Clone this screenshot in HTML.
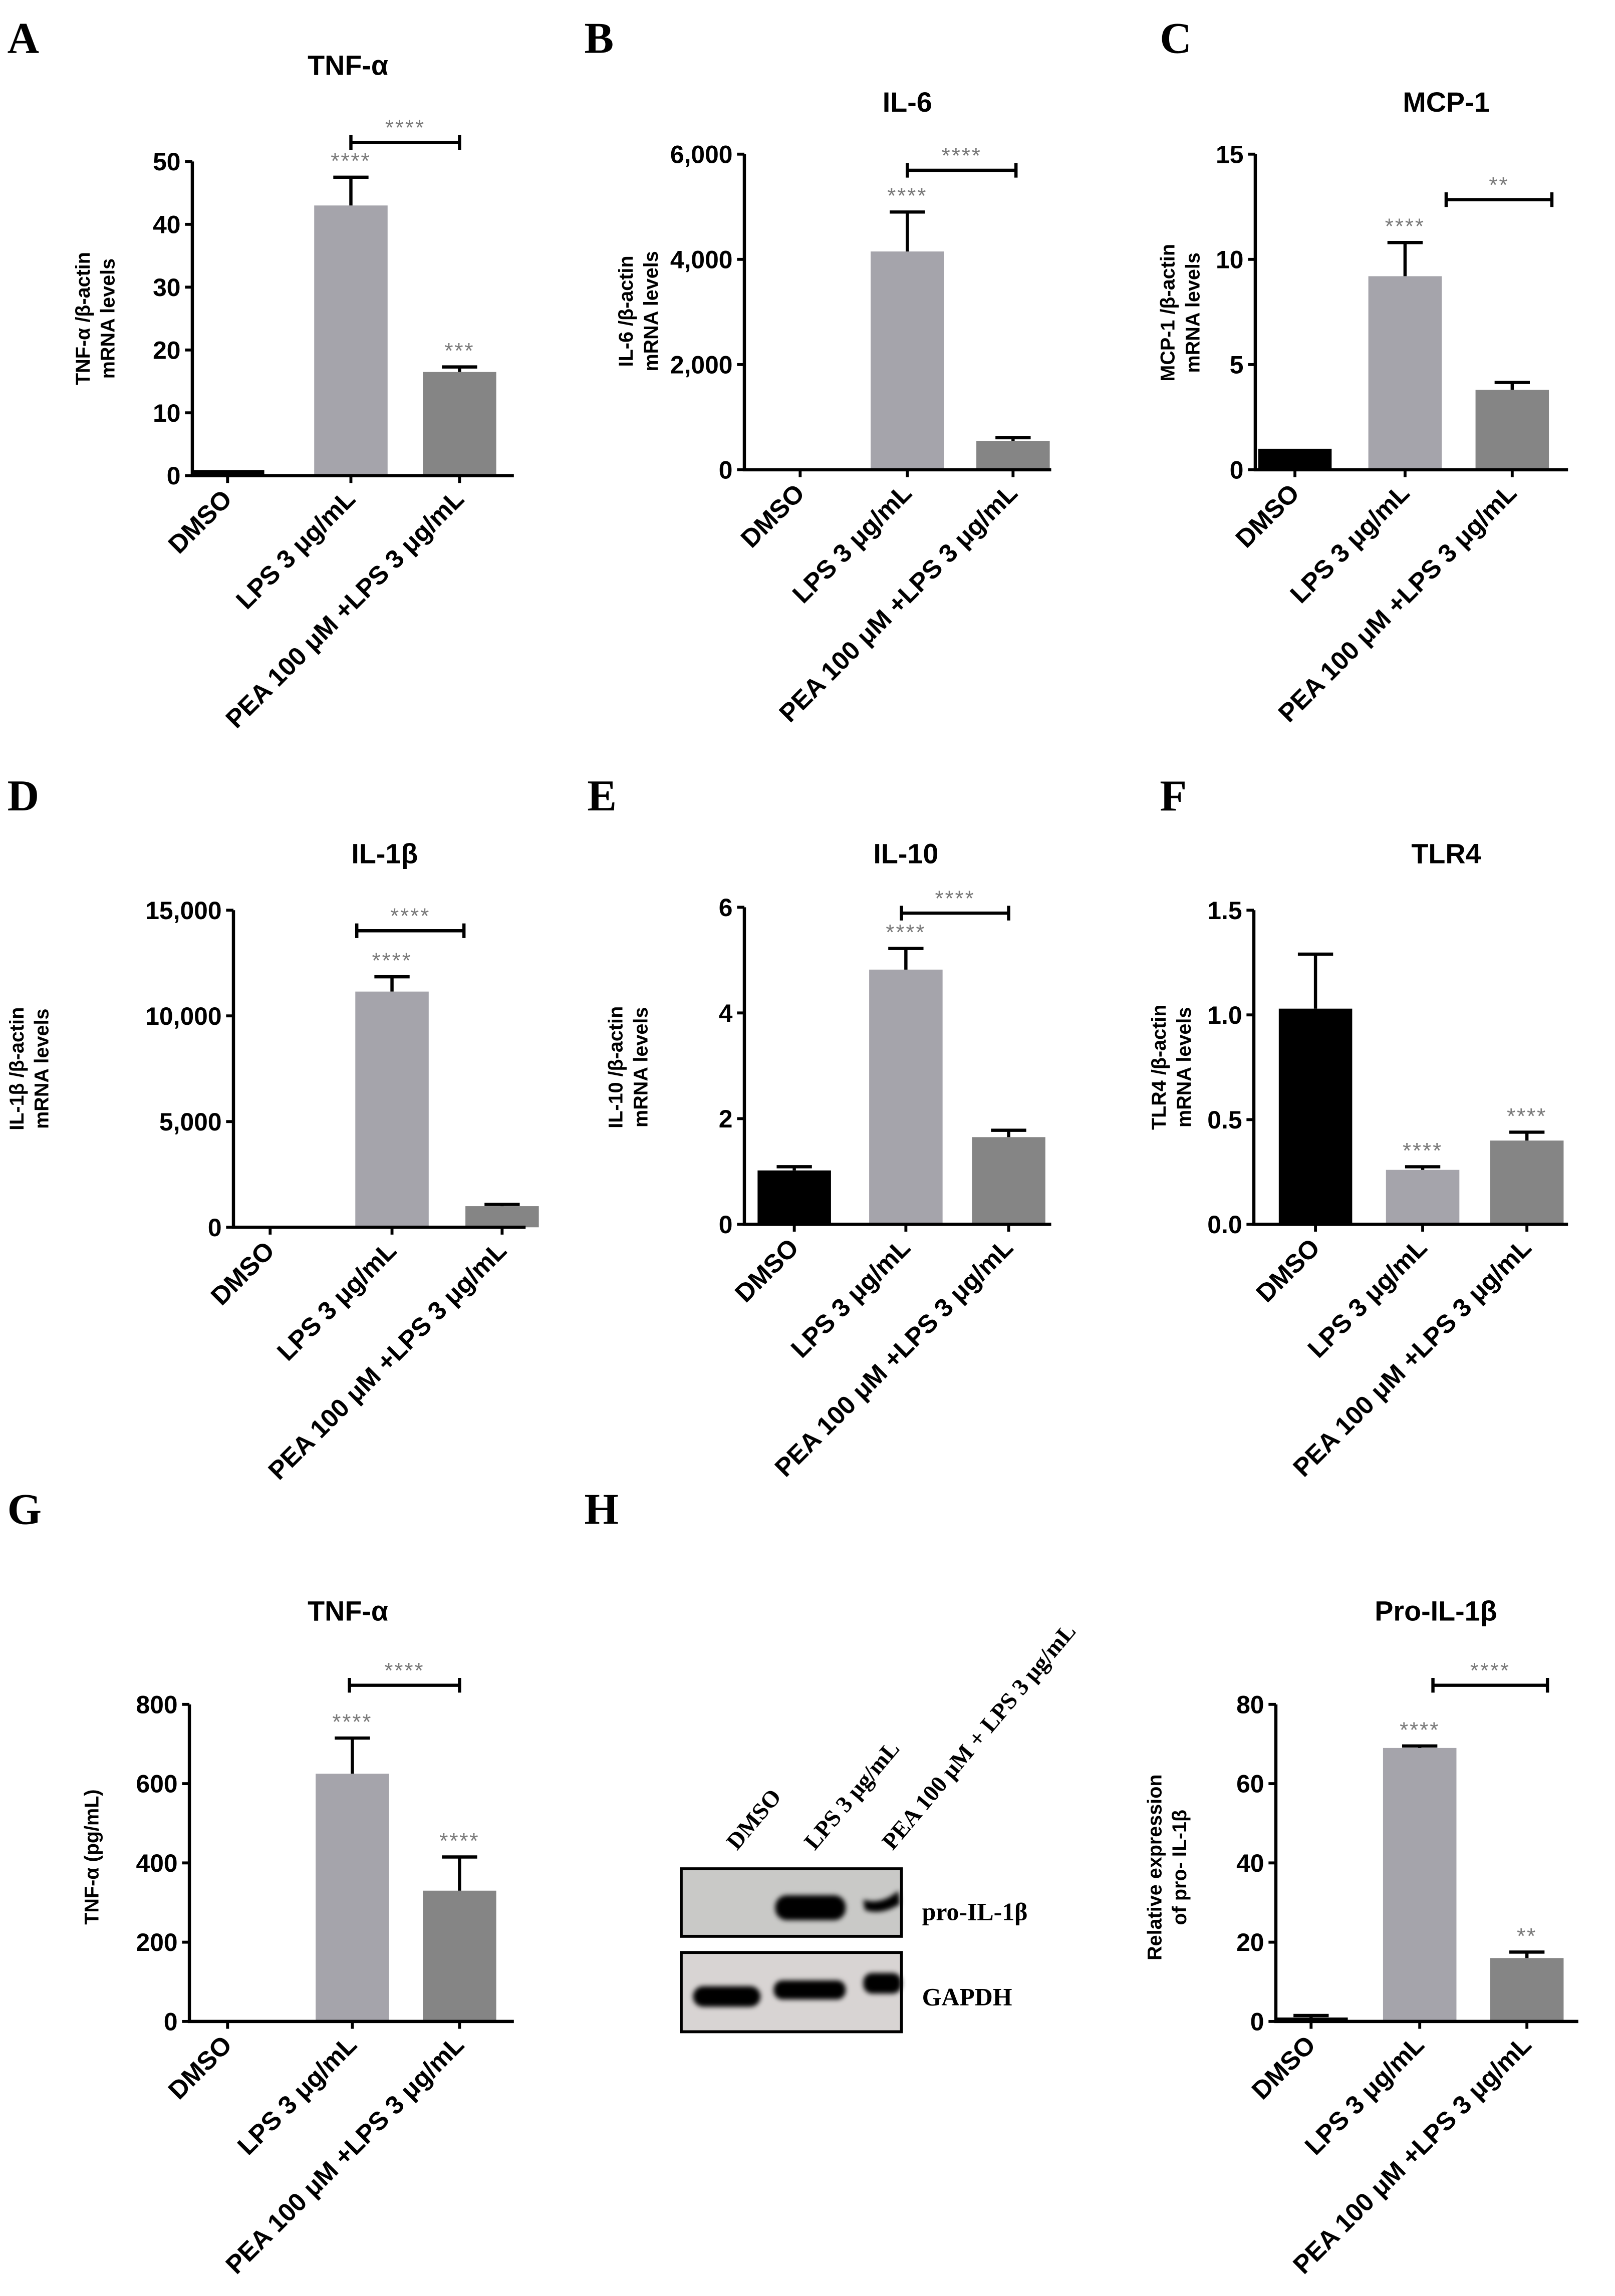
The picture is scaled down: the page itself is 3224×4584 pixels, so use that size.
<!DOCTYPE html>
<html><head><meta charset="utf-8"><style>
html,body{margin:0;padding:0;background:#fff}
svg{display:block}
text{font-family:"Liberation Sans",sans-serif}
.ser{font-family:"Liberation Serif",serif}
</style></head><body>
<svg id="fig" width="3224" height="4584" viewBox="0 0 1100 1564" xmlns="http://www.w3.org/2000/svg">
<defs><filter id="blur" x="-20%" y="-50%" width="140%" height="200%"><feGaussianBlur stdDeviation="1.6"/></filter></defs>
<rect width="1100" height="1564" fill="#fff"/>
<g id="blot">
  <rect x="464" y="1273" width="150" height="46" fill="#c9c9c7" stroke="#000" stroke-width="2"/>
  <rect x="464" y="1330" width="150" height="54" fill="#d8d4d3" stroke="#000" stroke-width="2"/>
  <g filter="url(#blur)">
    <rect x="528" y="1291" width="48" height="17" rx="8" fill="#000"/>
    <path d="M588 1294 Q600 1298 612 1288 L613 1297 Q600 1305 589 1301 Z" fill="#000"/>
    <rect x="472" y="1353" width="46" height="14" rx="7" fill="#000"/>
    <rect x="527" y="1349" width="49" height="13" rx="6" fill="#000"/>
    <rect x="588" y="1344" width="26" height="14" rx="6" fill="#000"/>
  </g>
  <text class="ser" x="628" y="1308" font-size="17" font-weight="bold">pro-IL-1β</text>
  <text class="ser" x="628" y="1366" font-size="17" font-weight="bold">GAPDH</text>
  <text class="ser" transform="translate(502,1261) rotate(-50)" text-anchor="start" font-size="16" font-weight="bold">DMSO</text>
  <text class="ser" transform="translate(555,1261) rotate(-50)" text-anchor="start" font-size="16" font-weight="bold">LPS 3 μg/mL</text>
  <text class="ser" transform="translate(608,1261) rotate(-50)" text-anchor="start" font-size="16" font-weight="bold">PEA 100 μM + LPS 3 μg/mL</text>
</g>
</svg>
<script>
const categories = ["DMSO", "LPS 3 μg/mL", "PEA 100 μM +LPS 3 μg/mL"];
const aValues = [0.9, 43, 16.5];
const aErrors = [0, 4.5, 0.8];
const aTicks = [0, 10, 20, 30, 40, 50];
const aStars = ["", "****", "***"];
const bValues = [0, 4150, 550];
const bErrors = [0, 750, 60];
const bTicks = [0, 2000, 4000, 6000];
const bStars = ["", "****", ""];
const cValues = [1.0, 9.2, 3.8];
const cErrors = [0, 1.6, 0.35];
const cTicks = [0, 5, 10, 15];
const cStars = ["", "****", ""];
const dValues = [0, 11150, 1000];
const dErrors = [0, 700, 80];
const dTicks = [0, 5000, 10000, 15000];
const dStars = ["", "****", ""];
const eValues = [1.02, 4.82, 1.65];
const eErrors = [0.07, 0.4, 0.13];
const eTicks = [0, 2, 4, 6];
const eStars = ["", "****", ""];
const fValues = [1.03, 0.26, 0.40];
const fErrors = [0.26, 0.015, 0.04];
const fTicks = [0, 0.5, 1.0, 1.5];
const fStars = ["", "****", "****"];
const gValues = [0, 625, 330];
const gErrors = [0, 90, 85];
const gTicks = [0, 200, 400, 600, 800];
const gStars = ["", "****", "****"];
const hValues = [1, 69, 16];
const hErrors = [0.5, 0.5, 1.5];
const hTicks = [0, 20, 40, 60, 80];
const hStars = ["", "****", "**"];

const NS = "http://www.w3.org/2000/svg";
const svg = document.getElementById("fig");
const colors = ["#000000", "#a5a4ab", "#858585"];
function mk(tag, attrs, parent, txt) {
  const e = document.createElementNS(NS, tag);
  for (const k in attrs) e.setAttribute(k, attrs[k]);
  if (txt !== undefined) e.textContent = txt;
  parent.appendChild(e);
  return e;
}
function fmt(v, dec) {
  if (dec) return v.toFixed(dec);
  return v >= 1000 ? v.toLocaleString("en-US") : String(v);
}
function panel(p) {
  const g = mk("g", {}, svg);
  
  
  const lo = p.ticks[0], hi = p.ticks[p.ticks.length - 1];
  const yS = v => p.y0 - (v - lo) / (hi - lo) * (p.y0 - p.yTop);
  const lt = mk("text", {x: p.lx, y: p.ly, "font-size": 30, "font-weight": "bold", class: "ser"}, g, p.letter);
  
  
  const tt = mk("text", {x: p.tx, y: p.ty, "font-size": 19, "font-weight": "bold", "text-anchor": "middle"}, g, p.title);
  
  
  const yt = mk("text", {transform: "translate(" + p.yx + "," + p.yc + ") rotate(-90)", "font-size": 13.5, "font-weight": "bold", "text-anchor": "middle"}, g);
  
  
  p.ylab.forEach((s, i) => mk("tspan", {x: 0, dy: i === 0 ? (p.ylab.length > 1 ? -9 : 5) : 17}, yt, s));
  p.values.forEach((v, i) => {
    const cx = p.xs[i];
    const r = mk("rect", {x: cx - 25, y: yS(v), width: 50, height: Math.max(0, p.y0 - yS(v)), fill: colors[i]}, g);
    
    
    if (p.errors[i] > 0) {
      const ye = yS(v + p.errors[i]);
      const eb = mk("path", {d: "M" + cx + " " + yS(v) + " V" + ye + " M" + (cx - 12) + " " + ye + " H" + (cx + 12), stroke: "#000", "stroke-width": 2.2, fill: "none"}, g);
      
      
    }
    if (p.stars[i]) {
      const st = mk("text", {x: cx, y: yS(v + p.errors[i]) - 6, "font-size": 15, fill: "#7a7a7a", "text-anchor": "middle", "letter-spacing": 1}, g, p.stars[i]);
      
      
    }
    const xl = mk("text", {transform: "translate(" + (cx + 4) + "," + (p.y0 + 17) + ") rotate(-45)", "font-size": 17.5, "font-weight": "bold", "text-anchor": "end"}, g, categories[i]);
    
    
    const xt = mk("line", {x1: cx, x2: cx, y1: p.y0, y2: p.y0 + 5, stroke: "#000", "stroke-width": 2}, g);
    
    
  });
  const ax = mk("path", {d: "M" + p.ax + " " + p.yTop + " V" + p.y0 + " H" + p.xEnd, stroke: "#000", "stroke-width": 2.2, fill: "none"}, g);
  
  
  p.ticks.forEach(t => {
    const y = yS(t);
    const tl = mk("line", {x1: p.ax - 5, x2: p.ax, y1: y, y2: y, stroke: "#000", "stroke-width": 2}, g);
    
    
    const tx = mk("text", {x: p.ax - 8, y: y + 6, "font-size": 17, "font-weight": "bold", "text-anchor": "end"}, g, fmt(t, p.dec));
    
    
  });
  if (p.br) {
    const b = p.br;
    const bp = mk("path", {d: "M" + b[0] + " " + (b[2] - 5) + " V" + (b[2] + 5) + " M" + b[0] + " " + b[2] + " H" + b[1] + " M" + b[1] + " " + (b[2] - 5) + " V" + (b[2] + 5), stroke: "#000", "stroke-width": 2.2, fill: "none"}, g);
    
    
    const bs = mk("text", {x: (b[0] + b[1]) / 2, y: b[2] - 5, "font-size": 15, fill: "#7a7a7a", "text-anchor": "middle", "letter-spacing": 1}, g, b[3]);
    
    
  }
}
panel({id: "a", letter: "A", lx: 5, ly: 36, title: "TNF-α", tx: 237, ty: 51, ylab: ["TNF-α /β-actin", "mRNA levels"], yx: 70, yc: 217,
  ax: 131, y0: 324, yTop: 110, xEnd: 350, xs: [155, 239, 313], values: aValues, errors: aErrors, ticks: aTicks, stars: aStars, br: [239, 313, 97, "****"]});
panel({id: "b", letter: "B", lx: 398, ly: 36, title: "IL-6", tx: 618, ty: 76, ylab: ["IL-6 /β-actin", "mRNA levels"], yx: 440, yc: 212,
  ax: 507, y0: 320, yTop: 105, xEnd: 716, xs: [545, 618, 690], values: bValues, errors: bErrors, ticks: bTicks, stars: bStars, br: [618, 692, 116, "****"]});
panel({id: "c", letter: "C", lx: 790, ly: 36, title: "MCP-1", tx: 985, ty: 76, ylab: ["MCP-1 /β-actin", "mRNA levels"], yx: 809, yc: 213,
  ax: 855, y0: 320, yTop: 105, xEnd: 1068, xs: [882, 957, 1030], values: cValues, errors: cErrors, ticks: cTicks, stars: cStars, br: [985, 1057, 136, "**"]});
panel({id: "d", letter: "D", lx: 5, ly: 552, title: "IL-1β", tx: 262, ty: 588, ylab: ["IL-1β /β-actin", "mRNA levels"], yx: 25, yc: 728,
  ax: 159, y0: 836, yTop: 620, xEnd: 358, xs: [184, 267, 342], values: dValues, errors: dErrors, ticks: dTicks, stars: dStars, br: [243, 316, 634, "****"]});
panel({id: "e", letter: "E", lx: 400, ly: 552, title: "IL-10", tx: 617, ty: 588, ylab: ["IL-10 /β-actin", "mRNA levels"], yx: 433, yc: 727,
  ax: 507, y0: 834, yTop: 618, xEnd: 716, xs: [541, 617, 687], values: eValues, errors: eErrors, ticks: eTicks, stars: eStars, br: [614, 687, 622, "****"]});
panel({id: "f", letter: "F", lx: 790, ly: 552, title: "TLR4", tx: 985, ty: 588, ylab: ["TLR4 /β-actin", "mRNA levels"], yx: 803, yc: 727,
  ax: 854, y0: 834, yTop: 620, xEnd: 1068, xs: [896, 969, 1040], values: fValues, errors: fErrors, ticks: fTicks, stars: fStars, dec: 1});
panel({id: "g", letter: "G", lx: 5, ly: 1038, title: "TNF-α", tx: 237, ty: 1104, ylab: ["TNF-α (pg/mL)"], yx: 62, yc: 1265,
  ax: 129, y0: 1377, yTop: 1161, xEnd: 350, xs: [155, 240, 313], values: gValues, errors: gErrors, ticks: gTicks, stars: gStars, br: [238, 313, 1148, "****"]});
panel({id: "h", letter: "H", lx: 398, ly: 1038, title: "Pro-IL-1β", tx: 978, ty: 1104, ylab: ["Relative expression", "of pro- IL-1β"], yx: 800, yc: 1272,
  ax: 869, y0: 1377, yTop: 1161, xEnd: 1075, xs: [893, 967, 1040], values: hValues, errors: hErrors, ticks: hTicks, stars: hStars, br: [976, 1054, 1148, "****"]});
</script>
</body></html>
